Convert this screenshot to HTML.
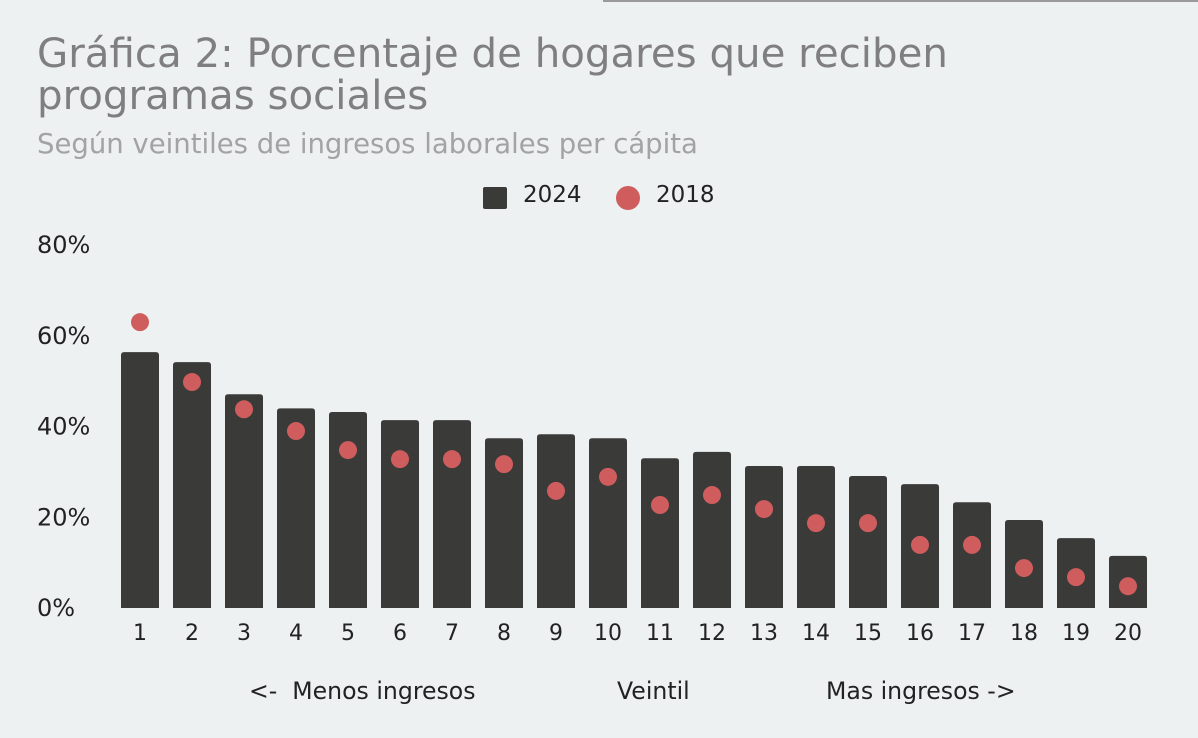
<!DOCTYPE html>
<html><head><meta charset="utf-8"><style>
html,body{margin:0;padding:0;background:#edf1f2;}
body{width:1198px;height:738px;overflow:hidden;position:relative;font-family:"DejaVu Sans","Liberation Sans",sans-serif;}
</style></head><body>
<div style="position:absolute;left:603px;top:0;width:595px;height:2px;background:#9a9a9a"></div>
<div style="position:absolute;left:37px;top:33px;font-size:40.3px;line-height:42px;color:#7f7f7f;white-space:nowrap">Gráfica 2: Porcentaje de hogares que reciben<br>programas sociales</div>
<div style="position:absolute;left:37px;top:128px;font-size:27.5px;color:#a3a3a3;white-space:nowrap">Según veintiles de ingresos laborales per cápita</div>
<svg id="chart" width="1198" height="738" style="position:absolute;left:0;top:0" font-family="DejaVu Sans, Liberation Sans, sans-serif"></svg>
<script>
const categories=['1','2','3','4','5','6','7','8','9','10','11','12','13','14','15','16','17','18','19','20'];
const values2024=[56.4,54.2,47.1,44.0,43.2,41.4,41.4,37.4,38.3,37.4,33.0,34.4,31.3,31.3,29.1,27.3,23.3,19.4,15.4,11.5];
const values2018=[63,49.8,43.8,39,34.8,32.8,32.8,31.7,25.8,28.9,22.7,24.9,21.8,18.7,18.7,13.9,13.9,8.8,6.8,4.8];
const yTicks=[0,20,40,60,80];
const yTickLabels=['0%','20%','40%','60%','80%'];
const svg=document.getElementById('chart');
const NS='http://www.w3.org/2000/svg';
function y(v){return 608-v*(608-245)/80;}
function x(i){return 140+i*(1128-140)/(categories.length-1);}
function mk(t,a){const e=document.createElementNS(NS,t);for(const k in a)e.setAttribute(k,a[k]);svg.appendChild(e);return e;}
yTicks.forEach((t,i)=>{const e=mk('text',{x:37,y:y(t)+8,'font-size':24,fill:'#222'});e.textContent=yTickLabels[i];

});
categories.forEach((c,i)=>{
const top=y(values2024[i]);
const b=mk('path',{d:`M${x(i)-19},608 L${x(i)-19},${top+3} Q${x(i)-19},${top} ${x(i)-16},${top} L${x(i)+16},${top} Q${x(i)+19},${top} ${x(i)+19},${top+3} L${x(i)+19},608 Z`,fill:'#3a3a39'});


const d=mk('circle',{cx:x(i),cy:y(values2018[i]),r:9,fill:'#d05d5d'});


const t=mk('text',{x:x(i),y:640,'font-size':22,fill:'#222','text-anchor':'middle'});t.textContent=c;


});
</script>
<div style="position:absolute;left:483px;top:182px;font-size:23px;color:#222">
<span style="position:absolute;left:0;top:5px;width:24px;height:22px;background:#3a3a39;border-radius:2px"></span>
<span style="position:absolute;left:40px;top:0">2024</span>
<span style="position:absolute;left:133px;top:4px;width:24px;height:24px;background:#d05d5d;border-radius:50%"></span>
<span style="position:absolute;left:173px;top:0">2018</span>
</div>
<div style="position:absolute;left:249px;top:677px;font-size:23.6px;color:#222;white-space:pre">&lt;-  Menos ingresos</div>
<div style="position:absolute;left:617px;top:677px;font-size:23.6px;color:#222">Veintil</div>
<div style="position:absolute;left:826px;top:677px;font-size:23.6px;color:#222">Mas ingresos -&gt;</div>
</body></html>
